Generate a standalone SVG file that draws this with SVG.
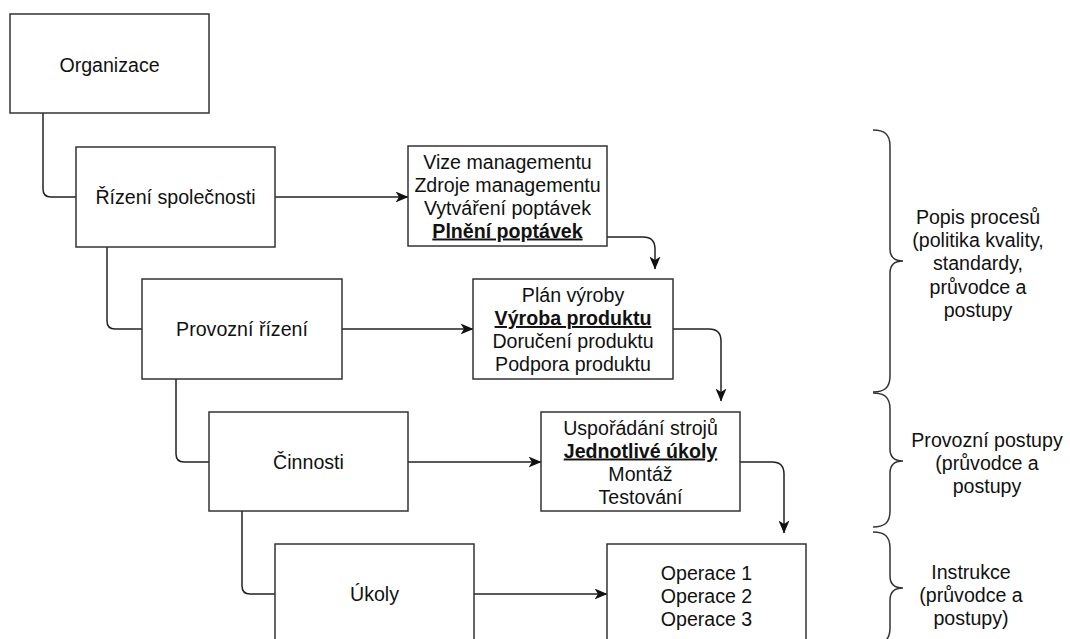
<svg xmlns="http://www.w3.org/2000/svg" width="1070" height="639" viewBox="0 0 1070 639">
  <defs>
    <style>
      .box { fill: #ffffff; stroke: #333333; stroke-width: 1.5; }
      .lbl { font-family: "Liberation Sans", Arial, sans-serif; font-size: 19.6px; fill: #111111; text-anchor: middle; }
      .em { font-weight: bold; text-decoration: underline; }
      .conn { fill: none; stroke: #222222; stroke-width: 1.5; }
      .brace { fill: none; stroke: #333333; stroke-width: 1.5; }
    </style>
    <marker id="arrow" viewBox="0 0 13 11" refX="12.5" refY="5.5" markerWidth="13" markerHeight="11" markerUnits="userSpaceOnUse" orient="auto">
      <path d="M0,0 L13,5.5 L0,11 L3.5,5.5 z" fill="#111111"/>
    </marker>
  </defs>

  <!-- hierarchy links and flow arrows -->
  <g id="connectors">
    <path class="conn" d="M43,113 V189 Q43,197 51,197 H76"/>
    <path class="conn" d="M107,247 V321 Q107,329 115,329 H142"/>
    <path class="conn" d="M176,379 V454 Q176,462 184,462 H209"/>
    <path class="conn" d="M242,511 V586 Q242,594 250,594 H275"/>

    <path class="conn" d="M275,197 H408" marker-end="url(#arrow)"/>
    <path class="conn" d="M342,329 H473" marker-end="url(#arrow)"/>
    <path class="conn" d="M408,462 H541" marker-end="url(#arrow)"/>
    <path class="conn" d="M474,594 H607" marker-end="url(#arrow)"/>

    <path class="conn" d="M607,237 H643 Q655,237 655,249 V269" marker-end="url(#arrow)"/>
    <path class="conn" d="M673,329 H709 Q721,329 721,341 V401" marker-end="url(#arrow)"/>
    <path class="conn" d="M740,462 H772 Q784,462 784,474 V533" marker-end="url(#arrow)"/>
  </g>

  <g id="organizace">
    <rect class="box" x="10" y="14" width="199" height="99"/>
    <text class="lbl" x="109.5" y="71.5">Organizace</text>
  </g>
  <g id="rizeni-spolecnosti">
    <rect class="box" x="76" y="147" width="199" height="100"/>
    <text class="lbl" x="175.5" y="204">Řízení společnosti</text>
  </g>
  <g id="provozni-rizeni">
    <rect class="box" x="142" y="279" width="200" height="100"/>
    <text class="lbl" x="242" y="336">Provozní řízení</text>
  </g>
  <g id="cinnosti">
    <rect class="box" x="209" y="412" width="199" height="99"/>
    <text class="lbl" x="308.5" y="468.5">Činnosti</text>
  </g>
  <g id="ukoly">
    <rect class="box" x="275" y="544" width="199" height="100"/>
    <text class="lbl" x="374.5" y="601">Úkoly</text>
  </g>

  <g id="management-list">
    <rect class="box" x="408" y="146" width="199" height="100"/>
    <text class="lbl" x="507.5" y="168.5">Vize managementu</text>
    <text class="lbl" x="507.5" y="191.5">Zdroje managementu</text>
    <text class="lbl" x="507.5" y="214.5">Vytváření poptávek</text>
    <text class="lbl em" x="507.5" y="237.5">Plnění poptávek</text>
  </g>
  <g id="produkt-list">
    <rect class="box" x="473" y="279" width="200" height="100"/>
    <text class="lbl" x="573" y="302">Plán výroby</text>
    <text class="lbl em" x="573" y="325">Výroba produktu</text>
    <text class="lbl" x="573" y="348">Doručení produktu</text>
    <text class="lbl" x="573" y="371">Podpora produktu</text>
  </g>
  <g id="ukoly-list">
    <rect class="box" x="541" y="412" width="199" height="99"/>
    <text class="lbl" x="640.5" y="434.5">Uspořádání strojů</text>
    <text class="lbl em" x="640.5" y="457.5">Jednotlivé úkoly</text>
    <text class="lbl" x="640.5" y="480.5">Montáž</text>
    <text class="lbl" x="640.5" y="503.5">Testování</text>
  </g>
  <g id="operace-list">
    <rect class="box" x="607" y="544" width="199" height="100"/>
    <text class="lbl" x="706.5" y="579.5">Operace 1</text>
    <text class="lbl" x="706.5" y="602.5">Operace 2</text>
    <text class="lbl" x="706.5" y="625.5">Operace 3</text>
  </g>

  <!-- level braces with their captions -->
  <g id="popis-procesu">
    <path class="brace" d="M873,130 C884,130 890,134 890,146 V249 C890,257 895,261 903,261 C895,261 890,265 890,273 V376 C890,388 884,392 873,392"/>
    <text class="lbl" x="978" y="224">Popis procesů</text>
    <text class="lbl" x="978" y="247.2">(politika kvality,</text>
    <text class="lbl" x="978" y="270.4">standardy,</text>
    <text class="lbl" x="978" y="293.6">průvodce a</text>
    <text class="lbl" x="978" y="316.8">postupy</text>
  </g>
  <g id="provozni-postupy">
    <path class="brace" d="M873,393 C884,393 890,397 890,409 V449 C890,457 895,461 903,461 C895,461 890,465 890,473 V511 C890,523 884,527 873,527"/>
    <text class="lbl" x="987" y="446.5">Provozní postupy</text>
    <text class="lbl" x="987" y="469.7">(průvodce a</text>
    <text class="lbl" x="987" y="492.9">postupy</text>
  </g>
  <g id="instrukce">
    <path class="brace" d="M873,532 C884,532 890,536 890,548 V576 C890,584 895,588 903,588 C895,588 890,592 890,600 V628 C890,640 884,644 873,644"/>
    <text class="lbl" x="971" y="579">Instrukce</text>
    <text class="lbl" x="971" y="602">(průvodce a</text>
    <text class="lbl" x="971" y="625">postupy)</text>
  </g>
</svg>
